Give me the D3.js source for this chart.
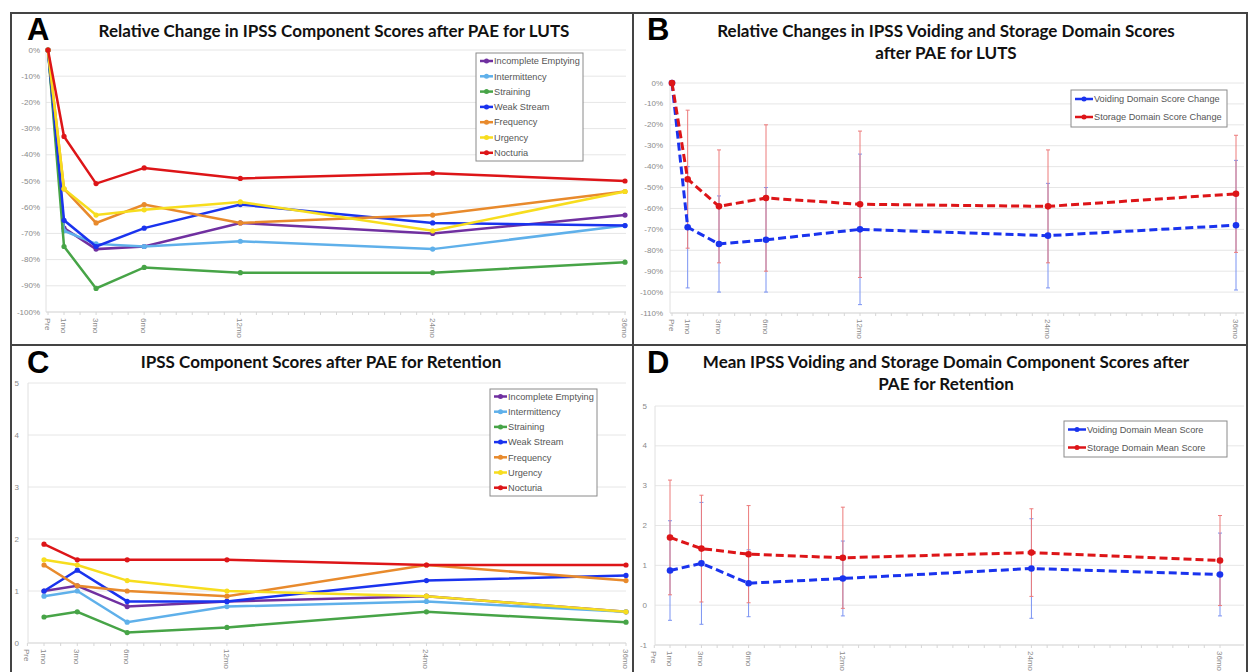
<!DOCTYPE html>
<style>
body { margin: 0; background: #fff; }
text { font-family: "Liberation Sans", Arial, sans-serif; }
.title { font-family: Lato, "Open Sans", sans-serif; font-weight: bold; font-size: 17px; fill: #111; }
.letter { font-weight: bold; font-size: 31px; fill: #000; }
.tick-label { font-size: 8px; fill: #8a8a8a; }
.legend text { font-size: 9.2px; fill: #555; }
</style>
<svg width="1249" height="672"></svg>
<script src="https://cdn.jsdelivr.net/npm/d3@7"></script>
<script>

// time points (months) and their labels
var months = [0, 1, 3, 6, 12, 24, 36];
var monthLabels = ["Pre", "1mo", "3mo", "6mo", "12mo", "24mo", "36mo"];

var componentNames = ["Incomplete Emptying", "Intermittency", "Straining", "Weak Stream", "Frequency", "Urgency", "Nocturia"];
var componentColors = ["#7030a0", "#5fb0ea", "#47a447", "#1a33ee", "#e88a2c", "#f7dd1e", "#dd1518"];

// A: relative change (fraction) for LUTS
var aIncomplete     = [0, -0.68, -0.76, -0.75, -0.66, -0.70, -0.63];
var aIntermittency  = [0, -0.69, -0.74, -0.75, -0.73, -0.76, -0.67];
var aStraining      = [0, -0.75, -0.91, -0.83, -0.85, -0.85, -0.81];
var aWeakStream     = [0, -0.65, -0.75, -0.68, -0.59, -0.66, -0.67];
var aFrequency      = [0, -0.53, -0.66, -0.59, -0.66, -0.63, -0.54];
var aUrgency        = [0, -0.53, -0.63, -0.61, -0.58, -0.69, -0.54];
var aNocturia       = [0, -0.33, -0.51, -0.45, -0.49, -0.47, -0.50];

// B: domain relative change, mean and SD
var bVoiding    = [0, -0.69, -0.77, -0.75, -0.70, -0.73, -0.68];
var bVoidingSD  = [null, 0.29, 0.23, 0.25, 0.36, 0.25, 0.31];
var bStorage    = [0, -0.46, -0.59, -0.55, -0.58, -0.59, -0.53];
var bStorageSD  = [null, 0.33, 0.27, 0.35, 0.35, 0.27, 0.28];

// C: component scores for retention (no Pre value)
var cIncomplete     = [null, 1.0, 1.1, 0.7, 0.8, 0.9, 0.6];
var cIntermittency  = [null, 0.9, 1.0, 0.4, 0.7, 0.8, 0.6];
var cStraining      = [null, 0.5, 0.6, 0.2, 0.3, 0.6, 0.4];
var cWeakStream     = [null, 1.0, 1.4, 0.8, 0.8, 1.2, 1.3];
var cFrequency      = [null, 1.5, 1.1, 1.0, 0.9, 1.5, 1.2];
var cUrgency        = [null, 1.6, 1.5, 1.2, 1.0, 0.9, 0.6];
var cNocturia       = [null, 1.9, 1.6, 1.6, 1.6, 1.5, 1.5];

// D: domain mean scores for retention, mean and SD
var dVoiding    = [null, 0.87, 1.05, 0.55, 0.67, 0.92, 0.77];
var dVoidingSD  = [null, 1.25, 1.53, 0.84, 0.94, 1.25, 1.04];
var dStorage    = [null, 1.70, 1.42, 1.28, 1.19, 1.32, 1.12];
var dStorageSD  = [null, 1.44, 1.34, 1.22, 1.27, 1.10, 1.13];

var svg = d3.select("svg");

function drawPanel(p) {
  var g = svg.append("g");
  var x = d3.scaleLinear().domain([0, 36]).range(p.xRange);
  var y = d3.scaleLinear().domain(p.yDomain).range(p.yRange);

  // gridlines
  g.append("g").selectAll("line")
    .data(p.yTicks)
    .enter().append("line")
      .attr("x1", p.gridLeft).attr("x2", p.gridRight)
      .attr("y1", function(d) { return y(d); }).attr("y2", function(d) { return y(d); })
      .attr("stroke", function(d, i) { return i == 0 ? "#cfcfcf" : "#e6e6e6"; })
      .attr("stroke-width", 1);

  // left axis line
  g.append("line")
      .attr("x1", p.gridLeft).attr("x2", p.gridLeft)
      .attr("y1", p.yRange[0]).attr("y2", p.yRange[1])
      .attr("stroke", "#e0e0e0");

  // minor month ticks on bottom axis
  g.append("g").selectAll("line")
    .data(d3.range(0, 37))
    .enter().append("line")
      .attr("x1", function(d) { return x(d); }).attr("x2", function(d) { return x(d); })
      .attr("y1", p.yRange[0]).attr("y2", p.yRange[0] + 3)
      .attr("stroke", "#d6d6d6");

  // y tick labels
  g.append("g").selectAll("text")
    .data(p.yTicks)
    .enter().append("text")
      .attr("class", "tick-label")
      .attr("x", p.yLabelX)
      .attr("y", function(d) { return y(d); })
      .attr("dy", "0.32em")
      .attr("text-anchor", "end")
      .text(p.yFormat);

  // x tick labels, rotated
  g.append("g").selectAll("text")
    .data(months)
    .enter().append("text")
      .attr("class", "tick-label")
      .attr("transform", function(d) { return "translate(" + (x(d) - 3) + "," + (p.yRange[0] + 6) + ") rotate(90)"; })
      .text(function(d, i) { return monthLabels[i]; });

  // error bars
  (p.errors || []).forEach(function(e) {
    var pts = months.map(function(m, i) { return {m: m, v: e.values[i], sd: e.sd[i]}; })
      .filter(function(d) { return d.sd != null; });
    var eg = g.append("g").attr("stroke", e.color).attr("stroke-width", 1);
    eg.selectAll(".bar").data(pts).enter().append("line")
      .attr("x1", function(d) { return x(d.m); }).attr("x2", function(d) { return x(d.m); })
      .attr("y1", function(d) { return y(d.v + d.sd); }).attr("y2", function(d) { return y(d.v - d.sd); });
    eg.selectAll(".capTop").data(pts).enter().append("line")
      .attr("x1", function(d) { return x(d.m) - 2; }).attr("x2", function(d) { return x(d.m) + 2; })
      .attr("y1", function(d) { return y(d.v + d.sd); }).attr("y2", function(d) { return y(d.v + d.sd); });
    eg.selectAll(".capBot").data(pts).enter().append("line")
      .attr("x1", function(d) { return x(d.m) - 2; }).attr("x2", function(d) { return x(d.m) + 2; })
      .attr("y1", function(d) { return y(d.v - d.sd); }).attr("y2", function(d) { return y(d.v - d.sd); });
  });

  var line = d3.line()
    .defined(function(d) { return d.v != null; })
    .x(function(d) { return x(d.m); })
    .y(function(d) { return y(d.v); });

  p.series.forEach(function(s) {
    var pts = months.map(function(m, i) { return {m: m, v: s.values[i]}; });
    g.append("path")
      .datum(pts)
      .attr("fill", "none")
      .attr("stroke", s.color)
      .attr("stroke-width", p.lineWidth)
      .attr("stroke-dasharray", p.dash || null)
      .attr("d", line);
    g.append("g").selectAll("circle")
      .data(pts.filter(function(d) { return d.v != null; }))
      .enter().append("circle")
        .attr("cx", function(d) { return x(d.m); })
        .attr("cy", function(d) { return y(d.v); })
        .attr("r", p.markerR)
        .attr("fill", s.color);
  });

  // legend
  var lg = g.append("g").attr("class", "legend");
  lg.append("rect")
      .attr("x", p.legend.x).attr("y", p.legend.y)
      .attr("width", p.legend.w).attr("height", p.legend.h)
      .attr("fill", "#fff").attr("stroke", "#8a8a8a");
  var item = lg.selectAll(".item")
    .data(p.series)
    .enter().append("g")
      .attr("transform", function(d, i) { return "translate(" + (p.legend.x + 4) + "," + (p.legend.y + p.legend.first + i * p.legend.step) + ")"; });
  item.append("line")
      .attr("x1", 0).attr("x2", p.legend.sym)
      .attr("stroke", function(d) { return d.color; })
      .attr("stroke-width", 2.5);
  item.append("circle")
      .attr("cx", p.legend.sym / 2).attr("r", 2.5)
      .attr("fill", function(d) { return d.color; });
  item.append("text")
      .attr("x", p.legend.sym + 1)
      .attr("dy", "0.35em")
      .text(function(d) { return d.name; });

  // title and panel letter
  p.title.forEach(function(t, i) {
    svg.append("text")
      .attr("class", "title")
      .attr("x", p.titleX).attr("y", p.titleY + i * 22)
      .attr("text-anchor", "middle")
      .text(t);
  });
  svg.append("text")
    .attr("class", "letter")
    .attr("x", p.letterX).attr("y", p.letterY)
    .text(p.letter);
}

function componentSeries(arrs) {
  return arrs.map(function(a, i) { return {name: componentNames[i], color: componentColors[i], values: a}; });
}

var pct = function(d) { return Math.round(d * 100) + "%"; };

drawPanel({
  letter: "A", letterX: 27, letterY: 40,
  title: ["Relative Change in IPSS Component Scores after PAE for LUTS"], titleX: 334, titleY: 37,
  xRange: [48, 625], yDomain: [-1, 0], yRange: [312, 50],
  yTicks: d3.range(-10, 1).map(function(d) { return d / 10; }),
  yFormat: pct, yLabelX: 40, gridLeft: 46, gridRight: 626,
  lineWidth: 2.5, markerR: 2.6,
  series: componentSeries([aIncomplete, aIntermittency, aStraining, aWeakStream, aFrequency, aUrgency, aNocturia]),
  legend: {x: 476, y: 53, w: 107, h: 108, first: 8, step: 15.3, sym: 13}
});

drawPanel({
  letter: "B", letterX: 647, letterY: 40,
  title: ["Relative Changes in IPSS Voiding and Storage Domain Scores", "after PAE for LUTS"], titleX: 946, titleY: 37,
  xRange: [672, 1236], yDomain: [-1.1, 0], yRange: [313, 83],
  yTicks: d3.range(-11, 1).map(function(d) { return d / 10; }),
  yFormat: pct, yLabelX: 663, gridLeft: 670, gridRight: 1244,
  lineWidth: 3, markerR: 3.3, dash: "8,4",
  errors: [
    {color: "#7b93f2", values: bVoiding, sd: bVoidingSD},
    {color: "#ec7b7b", values: bStorage, sd: bStorageSD}
  ],
  series: [
    {name: "Voiding Domain Score Change", color: "#1a33ee", values: bVoiding},
    {name: "Storage Domain Score Change", color: "#dd1518", values: bStorage}
  ],
  legend: {x: 1071, y: 90, w: 156, h: 37, first: 9, step: 18, sym: 18}
});

drawPanel({
  letter: "C", letterX: 27, letterY: 373,
  title: ["IPSS Component Scores after PAE for Retention"], titleX: 321, titleY: 368,
  xRange: [27.4, 626], yDomain: [0, 5], yRange: [643, 383],
  yTicks: d3.range(0, 6),
  yFormat: function(d) { return d; }, yLabelX: 19, gridLeft: 28, gridRight: 626,
  lineWidth: 2.5, markerR: 2.6,
  series: componentSeries([cIncomplete, cIntermittency, cStraining, cWeakStream, cFrequency, cUrgency, cNocturia]),
  legend: {x: 490, y: 389, w: 107, h: 107, first: 7.5, step: 15.2, sym: 13}
});

drawPanel({
  letter: "D", letterX: 647, letterY: 373,
  title: ["Mean IPSS Voiding and Storage Domain Component Scores after", "PAE for Retention"], titleX: 946, titleY: 368,
  xRange: [654.3, 1220], yDomain: [-1, 5], yRange: [645, 406],
  yTicks: d3.range(-1, 6),
  yFormat: function(d) { return d; }, yLabelX: 647, gridLeft: 655, gridRight: 1244,
  lineWidth: 3, markerR: 3.3, dash: "8,4",
  errors: [
    {color: "#7b93f2", values: dVoiding, sd: dVoidingSD},
    {color: "#ec7b7b", values: dStorage, sd: dStorageSD}
  ],
  series: [
    {name: "Voiding Domain Mean Score", color: "#1a33ee", values: dVoiding},
    {name: "Storage Domain Mean Score", color: "#dd1518", values: dStorage}
  ],
  legend: {x: 1064, y: 421, w: 163, h: 36, first: 8.5, step: 18, sym: 18}
});

// panel frame
svg.append("rect")
    .attr("x", 11).attr("y", 13).attr("width", 1236).attr("height", 680)
    .attr("fill", "none").attr("stroke", "#444").attr("stroke-width", 2);
svg.append("line")
    .attr("x1", 633).attr("x2", 633).attr("y1", 13).attr("y2", 672)
    .attr("stroke", "#444").attr("stroke-width", 2);
svg.append("line")
    .attr("x1", 11).attr("x2", 1247).attr("y1", 345).attr("y2", 345)
    .attr("stroke", "#444").attr("stroke-width", 2);

</script>
